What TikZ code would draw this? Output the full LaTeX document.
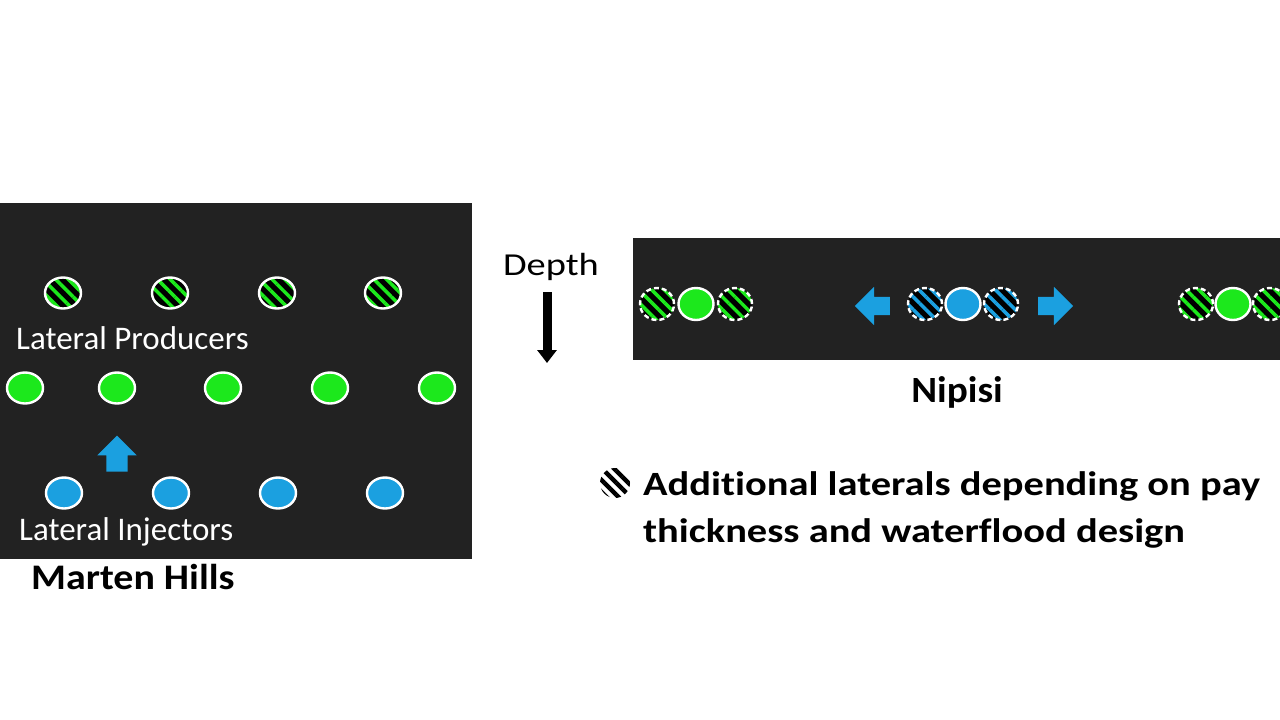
\documentclass[tikz,border=0pt]{standalone}
\usepackage{fontspec}
\setmainfont{Carlito}[Ligatures=NoCommon]
\usepackage{graphicx}
\usepackage{tikz}
\usetikzlibrary{shapes.geometric, shapes.arrows, arrows.meta, patterns.meta}
\definecolor{panel}{RGB}{34,34,34}
\definecolor{prod}{RGB}{28,232,28}
\definecolor{inj}{RGB}{27,160,224}
\newcommand{\widen}[2]{\scalebox{#1}[1]{#2}}

\begin{document}
\begin{tikzpicture}[x=1pt,y=-1pt,
  well/.style={draw=white,ellipse,line width=2.4pt,inner sep=0pt,
               minimum width=36pt,minimum height=31pt},
  wellg/.style={well,fill=prod},
  wellb/.style={well,fill=inj},
  latg/.style={well,preaction={fill=black},
               pattern={Lines[angle=-45,distance=9pt,line width=3.5pt]},pattern color=prod},
  latgd/.style={ellipse,inner sep=0pt,minimum width=34pt,minimum height=32pt,
               preaction={fill=black},
               pattern={Lines[angle=-45,distance=9pt,line width=3.5pt]},pattern color=prod,
               postaction={draw=white,line width=2.4pt,dash pattern=on 5pt off 3pt}},
  latbd/.style={latgd,pattern color=inj},
  wellgs/.style={wellg,minimum width=35pt,minimum height=32pt},
  wellbs/.style={wellb,minimum width=35pt,minimum height=32pt},
  flow/.style={single arrow,fill=inj,minimum width=0pt,single arrow head indent=0pt},
  lbl/.style={text=white,font=\fontsize{33}{40}\selectfont,inner sep=0pt},
  ttl/.style={font=\bfseries\fontsize{36}{44}\selectfont,inner sep=0pt},
  keytxt/.style={font=\bfseries\fontsize{34}{40}\selectfont,inner sep=0pt,anchor=base west}
]
\useasboundingbox (0,0) rectangle (1280,720);
\fill[panel] (0,203) rectangle (472,559);
\fill[panel] (633,238) rectangle (1280,360);

% Marten Hills
\node[latg]  (p1) at (63,293)  {};
\node[latg]  (p2) at (170,293) {};
\node[latg]  (p3) at (277,293) {};
\node[latg]  (p4) at (383,293) {};
\node[lbl,anchor=base west] (lp) at (16,349) {Lateral Producers};
\node[wellg] (g1) at (25,388)  {};
\node[wellg] (g2) at (117,388) {};
\node[wellg] (g3) at (223,388) {};
\node[wellg] (g4) at (330,388) {};
\node[wellg] (g5) at (437,388) {};
\node[flow,shape border rotate=90,inner sep=10.5pt,minimum height=36pt,
      single arrow head extend=9pt] (ua) at (117,459) {};
\node[wellb] (i1) at (64,493)  {};
\node[wellb] (i2) at (171,493) {};
\node[wellb] (i3) at (278,493) {};
\node[wellb] (i4) at (385,493) {};
\node[lbl,anchor=base west] (li) at (19,540) {Lateral Injectors};
\node[ttl,anchor=base west] (mh) at (31,589) {\widen{1.11}{Marten Hills}};

% depth
\node[font=\fontsize{32}{38}\selectfont,inner sep=0pt,anchor=base] (dp) at (551,275) {\widen{1.2}{Depth}};
\coordinate (dtop) at (547,292);
\coordinate (dbot) at (547,363);
\draw[line width=9pt,-{Triangle[length=13pt,width=19pt]}] (dtop) -- (dbot);

% Nipisi
\node[latgd]  (n1) at (657,304)  {};
\node[wellgs] (n2) at (696,304)  {};
\node[latgd]  (n3) at (735,304)  {};
\node[flow,shape border rotate=180,inner sep=9pt,minimum height=35pt,
      single arrow head extend=10pt] (la) at (877,306) {};
\node[latbd]  (b1) at (925,304)  {};
\node[wellbs] (b2) at (963,304)  {};
\node[latbd]  (b3) at (1001,304) {};
\node[flow,inner sep=9pt,minimum height=35pt,
      single arrow head extend=10pt] (ra) at (1051,306) {};
\node[latgd]  (n4) at (1196,304) {};
\node[wellgs] (n5) at (1233,304) {};
\node[latgd]  (n6) at (1270,304) {};
\node[ttl,font=\bfseries\fontsize{37}{44}\selectfont,anchor=base] (np) at (957,402) {\widen{1.06}{Nipisi}};

% legend
\node[circle,minimum size=30pt,inner sep=0pt,
      pattern={Lines[angle=-45,distance=8.5pt,line width=4.5pt]},pattern color=black] (key) at (615,483) {};
\node[keytxt] (kt1) at (643,495) {\widen{1.19}{Additional laterals depending on pay}};
\node[keytxt] (kt2) at (643,542) {\widen{1.19}{thickness and waterflood design}};
\end{tikzpicture}
\end{document}
